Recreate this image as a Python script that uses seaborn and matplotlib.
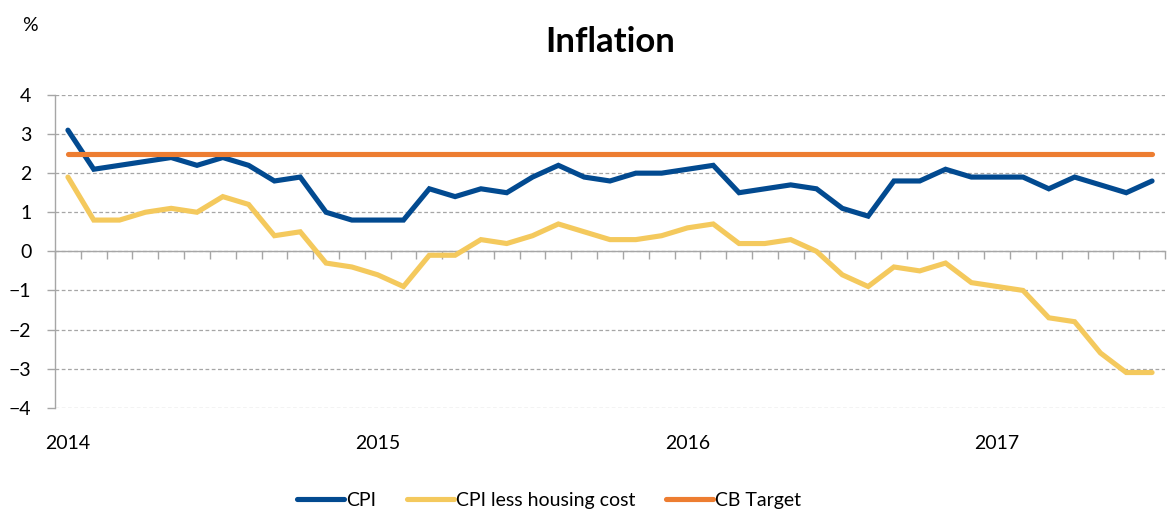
import numpy as np
import pandas as pd
import seaborn as sns
import matplotlib.pyplot as plt

# monthly data, Jan 2014 - Jul 2017
months = pd.date_range("2014-01-01", periods=43, freq="MS")
cpi = [3.1, 2.1, 2.2, 2.3, 2.4, 2.2, 2.4, 2.2, 1.8, 1.9, 1.0, 0.8,
       0.8, 0.8, 1.6, 1.4, 1.6, 1.5, 1.9, 2.2, 1.9, 1.8, 2.0, 2.0,
       2.1, 2.2, 1.5, 1.6, 1.7, 1.6, 1.1, 0.9, 1.8, 1.8, 2.1, 1.9,
       1.9, 1.9, 1.6, 1.9, 1.7, 1.5, 1.8]
cpi_less_housing = [1.9, 0.8, 0.8, 1.0, 1.1, 1.0, 1.4, 1.2, 0.4, 0.5, -0.3, -0.4,
                    -0.6, -0.9, -0.1, -0.1, 0.3, 0.2, 0.4, 0.7, 0.5, 0.3, 0.3, 0.4,
                    0.6, 0.7, 0.2, 0.2, 0.3, 0.0, -0.6, -0.9, -0.4, -0.5, -0.3, -0.8,
                    -0.9, -1.0, -1.7, -1.8, -2.6, -3.1, -3.1]
cb_target = [2.5] * 43
year_labels = ["2014", "2015", "2016", "2017"]

series_names = ["CPI", "CPI less housing cost", "CB Target"]
colors = {"CPI": "#024A90", "CPI less housing cost": "#F4C95D", "CB Target": "#ED7D31"}

pos = np.arange(len(months))
df = pd.concat([
    pd.DataFrame({"pos": pos, "value": cpi, "series": "CPI"}),
    pd.DataFrame({"pos": pos, "value": cpi_less_housing, "series": "CPI less housing cost"}),
    pd.DataFrame({"pos": pos, "value": cb_target, "series": "CB Target"}),
])

sns.set_theme(style="white", rc={"text.color": "black", "xtick.color": "black",
                                 "ytick.color": "black", "axes.labelcolor": "black"})
plt.rcParams['font.family'] = ['Lato', 'DejaVu Sans']

fig = plt.figure(figsize=(11.68, 5.12), dpi=100)
ax = fig.add_axes([0.0471, 0.2037, 0.9503, 0.6108])

sns.lineplot(data=df, x="pos", y="value", hue="series", hue_order=series_names,
             palette=colors, linewidth=3.7, ax=ax, legend=True,
             solid_capstyle="round", solid_joinstyle="miter")

ax.set_xlim(-0.5, len(months) - 0.5)
ax.set_ylim(-4, 4)
ax.set_xlabel("")
ax.set_ylabel("")

# y axis
ax.set_yticks(range(-4, 5))
ax.yaxis.grid(True, linestyle=(0, (3, 2)), color="#A6A6A6", linewidth=0.9)
ax.set_axisbelow(True)
for s in ["top", "right", "bottom"]:
    ax.spines[s].set_visible(False)
ax.spines["left"].set_color("#A6A6A6")
ax.spines["left"].set_linewidth(1.0)
ax.tick_params(axis="y", left=True, direction="out", length=6, width=1.0,
               color="#A6A6A6", labelsize=14, pad=11, labelcolor="black")

# year labels under plot
year_pos = [months.get_loc(pd.Timestamp(y + "-01-01")) for y in year_labels]
ax.set_xticks(year_pos)
ax.set_xticklabels(year_labels)
ax.tick_params(axis="x", bottom=False, length=0, labelsize=14, pad=20, labelcolor="black")

# category axis line at zero with ticks between months
sec = ax.secondary_xaxis(0.5)
sec.set_xticks(np.append(pos + 0.5, -0.5))
sec.set_xticklabels([])
for s in ["top", "bottom"]:
    sec.spines[s].set_color("#A6A6A6")
    sec.spines[s].set_linewidth(1.0)
sec.tick_params(axis="x", bottom=True, top=False, labelbottom=False, direction="out",
                length=6, width=1.0, color="#A6A6A6")

ax.set_title("Inflation", fontsize=25, fontweight="bold", pad=31, color="black")
fig.text(0.026, 0.95, "%", fontsize=14, ha="center", va="center", color="black")

handles, labels = ax.get_legend_handles_labels()
ax.legend(handles, labels, loc="center", bbox_to_anchor=(0.47, 0.023),
          bbox_transform=fig.transFigure, ncol=3, frameon=False,
          fontsize=14, handlelength=2.4, handletextpad=0.1, columnspacing=1.6)

fig.savefig("out.png", dpi=100)
